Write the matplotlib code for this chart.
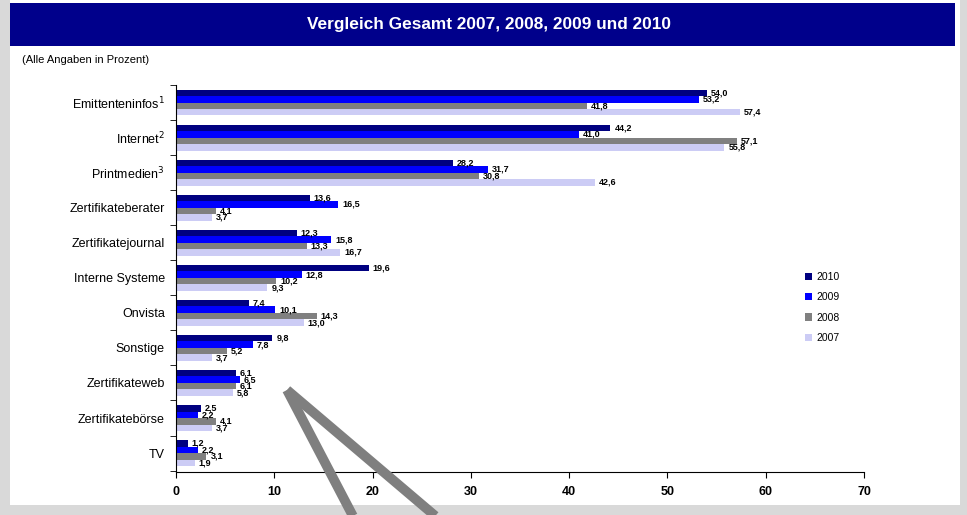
import matplotlib.pyplot as plt
from matplotlib.patches import Rectangle
from matplotlib.lines import Line2D
import numpy as np

plt.rcParams['font.family'] = ['Liberation Sans', 'DejaVu Sans']

categories = ["Emittenteninfos$^{1}$", "Internet$^{2}$", "Printmedien$^{3}$",
              "Zertifikateberater", "Zertifikatejournal", "Interne Systeme",
              "Onvista", "Sonstige", "Zertifikateweb", "Zertifikatebörse", "TV"]
years = ["2010", "2009", "2008", "2007"]
v2010 = [54.0, 44.2, 28.2, 13.6, 12.3, 19.6, 7.4, 9.8, 6.1, 2.5, 1.2]
v2009 = [53.2, 41.0, 31.7, 16.5, 15.8, 12.8, 10.1, 7.8, 6.5, 2.2, 2.2]
v2008 = [41.8, 57.1, 30.8, 4.1, 13.3, 10.2, 14.3, 5.2, 6.1, 4.1, 3.1]
v2007 = [57.4, 55.8, 42.6, 3.7, 16.7, 9.3, 13.0, 3.7, 5.8, 3.7, 1.9]
series = [v2010, v2009, v2008, v2007]
colors = ["#000080", "#0000ff", "#808080", "#ccccf5"]

fig = plt.figure(figsize=(9.67, 5.15), dpi=100)
fig.patch.set_facecolor("#d9d9d9")

# white panel and title bar
fig.add_artist(Rectangle((10/967, 10/515), 950/967, 505/515, transform=fig.transFigure,
                         facecolor="white", edgecolor="none", zorder=0))
fig.add_artist(Rectangle((10/967, 1 - 46/515), 945/967, 43/515, transform=fig.transFigure,
                         facecolor="#00008b", edgecolor="none", zorder=1))
fig.text(489/967, 1 - 25/515, "Vergleich Gesamt 2007, 2008, 2009 und 2010",
         color="white", fontsize=12.4, fontweight="bold", ha="center", va="center")
fig.text(22/967, 1 - 60/515, "(Alle Angaben in Prozent)", fontsize=8, va="center")

ax = fig.add_axes([176/967, 43/515, 688/967, 387/515])
y = np.arange(len(categories))
h = 0.185
for i, (vals, col, yr) in enumerate(zip(series, colors, years)):
    pos = y + (i - 1.5) * h
    ax.barh(pos, vals, height=h, color=col, label=yr)
    for p, v in zip(pos, vals):
        ax.text(v + 0.4, p, f"{v:.1f}".replace(".", ","), fontsize=6.5,
                fontweight="bold", va="center", ha="left")

ax.set_xlim(0, 70)
ax.set_ylim(10.54, -0.455)
ax.set_xticks(range(0, 71, 10))
ax.set_yticks(y)
ax.set_yticklabels(categories, fontsize=9)
ax.set_yticks(np.arange(-0.5, len(categories), 1), minor=True)
ax.tick_params(axis="y", which="major", length=0, pad=8)
ax.tick_params(axis="y", which="minor", length=4, direction="out")
ax.tick_params(axis="x", length=4, direction="out", labelsize=9, pad=6)
for t in ax.get_xticklabels():
    t.set_fontweight("bold")
ax.spines["top"].set_visible(False)
ax.spines["right"].set_visible(False)

ax.legend(loc="center left", bbox_to_anchor=(0.9, 0.425), frameon=False,
          fontsize=7.5, handlelength=0.7, handleheight=0.7, labelspacing=1.0,
          handletextpad=0.4)

# hand-drawn gray strokes
for x2 in (355, 440):
    fig.add_artist(Line2D([287/967, x2/967], [1 - 390/515, 1 - 520/515],
                          transform=fig.transFigure, color="#7f7f7f", lw=7,
                          solid_capstyle="butt", zorder=10))

fig.savefig("out.png", dpi=100, facecolor=fig.get_facecolor())
